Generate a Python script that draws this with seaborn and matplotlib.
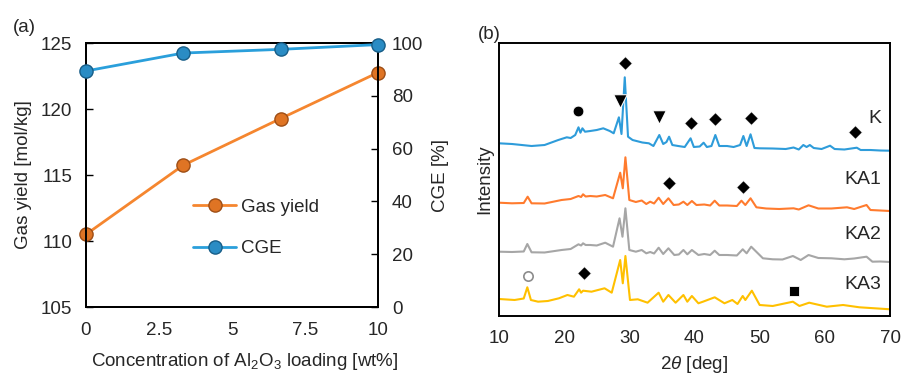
import matplotlib
matplotlib.use("Agg")
import matplotlib.pyplot as plt
import pandas as pd
import seaborn as sns

# (a) gas yield / CGE vs Al2O3 loading
loading = [0, 3.33, 6.67, 10]
gas_yield = [110.5, 115.74, 119.28, 122.76]
cge = [89.4, 96.2, 97.6, 99.4]

# (b) XRD patterns (stacked, arbitrary units)
k_angle = [10, 12, 15, 17, 19.1, 20.4, 21.0, 21.7, 22.2, 22.5, 22.8, 23.2, 24, 25, 26,
           27, 27.6, 28.4, 28.8, 29.3, 29.8, 30.5, 32, 33, 33.7, 34.6, 35.2, 35.7, 36.1,
           36.6, 37.5, 38.5, 39.4, 39.9, 40.8, 41.4, 41.9, 42.6, 43.2, 43.8, 45, 46, 47.0,
           47.5, 48.0, 48.6, 49.2, 50, 52, 54, 55.2, 56, 56.7, 57.2, 57.7, 58.3, 59.5,
           60.8, 61.5, 63, 64.9, 65.5, 67, 68.5, 70]
k_int = [172.7, 172, 170, 171, 176, 178.7, 178, 181, 188.7, 183.3, 187.7, 184.3, 185,
         186, 187.7, 185, 182.7, 198.7, 182, 238.7, 179.3, 176, 173.5, 172.7, 170, 181,
         172, 174, 179.3, 171, 170, 169, 177.7, 169, 169.5, 173.3, 169, 170, 181, 170,
         170, 169, 171, 180, 170, 181.7, 168, 167.7, 167.5, 167, 168.5, 166.5, 171, 169,
         171, 168, 167, 170.3, 167, 166.5, 168.3, 166, 166, 165.5, 165.3]

ka1_angle = [10, 12, 13.8, 14.4, 15.0, 17, 19.6, 21, 22.2, 22.6, 22.9, 23.3, 24, 25,
             26.3, 27.5, 28.6, 29.0, 29.4, 30.0, 31, 31.9, 32.6, 33.2, 33.8, 34.5, 35.2,
             36.0, 36.8, 37.6, 38.3, 38.9, 39.6, 40.3, 41.5, 42.4, 43.1, 43.8, 45, 46.5,
             47.2, 47.8, 48.6, 49.5, 51, 53, 55.2, 56, 57.5, 59, 61, 63.4, 64.5, 66.4,
             67, 68.5, 70]
ka1_int = [113.3, 112.7, 113, 119.3, 112.7, 112.5, 116, 117, 120, 119, 121.7, 119.5,
           120, 119.5, 121, 117.7, 143.3, 127.7, 158.7, 116, 114, 115.5, 112, 114.3,
           112.5, 118.3, 112, 117.7, 111, 111.5, 114.3, 111, 115, 111, 111.5, 110.5,
           115.3, 110.5, 110.5, 110, 115.3, 111, 117.7, 108.7, 107.5, 107, 107.7, 106.5,
           110.7, 107.5, 107.5, 108.7, 107, 111, 106, 105.5, 105]

ka2_angle = [10, 12, 13.8, 14.35, 15.0, 17, 19.6, 21, 22.2, 22.6, 22.9, 23.3, 24, 25,
             26.3, 27.5, 28.5, 28.95, 29.4, 30.0, 31, 31.9, 32.6, 33.2, 33.8, 34.5, 35.2,
             36.0, 36.9, 37.6, 38.3, 38.9, 39.6, 40.6, 41.5, 42.4, 43.1, 43.8, 45, 46.5,
             47.4, 48.0, 48.7, 50.5, 52, 53.5, 55.1, 56.3, 57.5, 59, 61, 63, 64.5, 66.4,
             67.3, 68.5, 70]
ka2_int = [64.3, 64, 64.5, 72, 63.7, 63.5, 66, 67, 71.7, 70.5, 72.7, 71, 71, 70.5, 73.3,
           69.3, 97.7, 79.3, 107.7, 66, 64.3, 66, 62.7, 64, 62.5, 68.3, 62, 67.7, 61,
           61.5, 66, 61.7, 66, 61, 62, 61, 65.3, 61, 61, 60.5, 66.7, 62.7, 69.3, 57.7,
           56.7, 56.5, 60, 56, 61, 58, 57.7, 56.7, 57.5, 59.3, 54.3, 54.5, 54]

ka3_angle = [10, 12.4, 13.8, 14.35, 14.9, 16, 17.5, 19.2, 20.5, 21.5, 22.3, 22.6, 22.9,
             24.2, 26.2, 27.3, 28.6, 29.0, 29.4, 30.1, 31.3, 32.8, 34.5, 35.2, 36.0,
             37.1, 38.3, 38.9, 39.6, 40.6, 41.3, 43.1, 44.6, 45.8, 46.6, 47.4, 47.8,
             48.8, 50, 52, 55.1, 56.1, 57.6, 60.3, 62.8, 65.3, 70]
ka3_int = [17, 16, 17.5, 28.7, 16, 14.3, 15, 17.7, 21, 19.3, 26.7, 23.3, 25.3, 24.3,
           27.7, 23.3, 56, 32.7, 60, 16, 16.7, 13.3, 23.3, 14.3, 21, 13.3, 21, 14.3, 20,
           12.7, 14.3, 18.7, 12.7, 16, 12, 20, 16, 25.3, 11, 10, 14.3, 10, 13.3, 9.3,
           11, 8.7, 6.7]

sample_names = ["K", "KA1", "KA2", "KA3"]
sample_label_level = [197.7, 136.7, 81, 31]

# phase markers: (2theta, height, symbol)
peak_angle = [22.2, 28.5, 29.3, 34.6, 39.4, 43.2, 48.6, 64.6, 36.1, 47.5, 14.4, 23.0, 55.2]
peak_level = [205, 215.3, 253.3, 199.3, 193.3, 197.3, 198.3, 184.3, 132.7, 128.7, 40, 42.7, 25.3]
peak_symbol = ["circle", "tri", "dia", "tri", "dia", "dia", "dia", "dia", "dia", "dia",
               "open", "dia", "square"]

sns.set_theme(style="white")
plt.rcParams["font.family"] = ["Liberation Sans", "DejaVu Sans"]
plt.rcParams["mathtext.fontset"] = "custom"
plt.rcParams["mathtext.rm"] = "Liberation Sans"
plt.rcParams["mathtext.it"] = "Liberation Sans:italic"
FS = 13.5

fig = plt.figure(figsize=(9.01, 3.76), dpi=100)
ax1 = fig.add_axes([0.0954, 0.1835, 0.3241, 0.7021])
ax1r = ax1.twinx()
ax2 = fig.add_axes([0.5538, 0.1596, 0.4340, 0.7260])

# ---- panel (a)
orange_line, blue_line = "#F5862F", "#2A9FDB"
sns.lineplot(x=loading, y=gas_yield, ax=ax1, color=orange_line, lw=2,
             marker="o", markersize=9.5, markerfacecolor="#DF7424",
             markeredgecolor="#9E4E16", markeredgewidth=1, label="Gas yield",
             legend=False, clip_on=False, zorder=4)
sns.lineplot(x=loading, y=cge, ax=ax1r, color=blue_line, lw=2,
             marker="o", markersize=9.5, markerfacecolor="#2A8CC4",
             markeredgecolor="#185E88", markeredgewidth=1, label="CGE",
             legend=False, clip_on=False, zorder=4)
ax1.set_xlim(0, 10)
ax1.set_ylim(105, 125)
ax1r.set_ylim(0, 100)
ax1.set_xticks([0, 2.5, 5, 7.5, 10])
ax1.set_xticklabels(["0", "2.5", "5", "7.5", "10"])
ax1.set_yticks([105, 110, 115, 120, 125])
ax1r.set_yticks([0, 20, 40, 60, 80, 100])
ax1.set_xlabel("Concentration of Al$_2$O$_3$ loading [wt%]", fontsize=FS, labelpad=6)
ax1.xaxis.set_label_coords(0.545, -0.165)
ax1.set_ylabel("Gas yield [mol/kg]", fontsize=FS, labelpad=6)
ax1r.set_ylabel("CGE [%]", fontsize=FS, labelpad=6)
for a in (ax1, ax1r):
    a.tick_params(direction="in", labelsize=FS, length=5, width=1, color="black",
                  pad=10)
    for s in a.spines.values():
        s.set_color("black")
        s.set_linewidth(1.4)
ax1.tick_params(axis="x", pad=11)
h1, l1 = ax1.get_legend_handles_labels()
h2, l2 = ax1r.get_legend_handles_labels()
ax1.legend(h1 + h2, l1 + l2, loc="center left", bbox_to_anchor=(0.31, 0.30),
           frameon=False, fontsize=FS, handlelength=2.3, labelspacing=1.3,
           handletextpad=0.25)
fig.text(0.014, 0.915, "(a)", fontsize=FS)

# ---- panel (b)
traces = [(k_angle, k_int, "#2E9CDA"), (ka1_angle, ka1_int, "#FF7B2E"),
          (ka2_angle, ka2_int, "#A6A6A6"), (ka3_angle, ka3_int, "#FFC000")]
for ang, inten, col in traces:
    df = pd.DataFrame({"angle": ang, "intensity": inten})
    sns.lineplot(data=df, x="angle", y="intensity", ax=ax2, color=col, lw=1.5,
                 sort=False)

marks = pd.DataFrame({"angle": peak_angle, "level": peak_level, "sym": peak_symbol})
styles = {"circle": dict(marker="o", s=60, color="black"),
          "tri": dict(marker="v", s=95, color="black"),
          "dia": dict(marker="D", s=48, color="black"),
          "square": dict(marker="s", s=55, color="black"),
          "open": dict(marker="o", s=45, facecolor="white", edgecolor="#8C8C8C",
                       linewidth=1.2)}
for sym, sub in marks.groupby("sym"):
    sns.scatterplot(data=sub, x="angle", y="level", ax=ax2, zorder=5, legend=False,
                    **styles[sym])

for name, lvl in zip(sample_names, sample_label_level):
    ax2.text(68.6, lvl, name, ha="right", va="center", fontsize=FS + 0.5)

ax2.set_xlim(10, 70)
ax2.set_ylim(0, 273)
ax2.set_xticks(range(10, 71, 10))
ax2.set_yticks([])
ax2.set_xlabel(r"2$\mathit{\theta}$ [deg]", fontsize=FS, labelpad=5)
ax2.set_ylabel("Intensity", fontsize=FS, labelpad=4)
ax2.tick_params(direction="in", labelsize=FS, length=5, width=1, color="black",
                pad=10)
for s in ax2.spines.values():
    s.set_color("black")
    s.set_linewidth(1.4)
fig.text(0.530, 0.895, "(b)", fontsize=FS)

fig.savefig("out.png", dpi=100)
